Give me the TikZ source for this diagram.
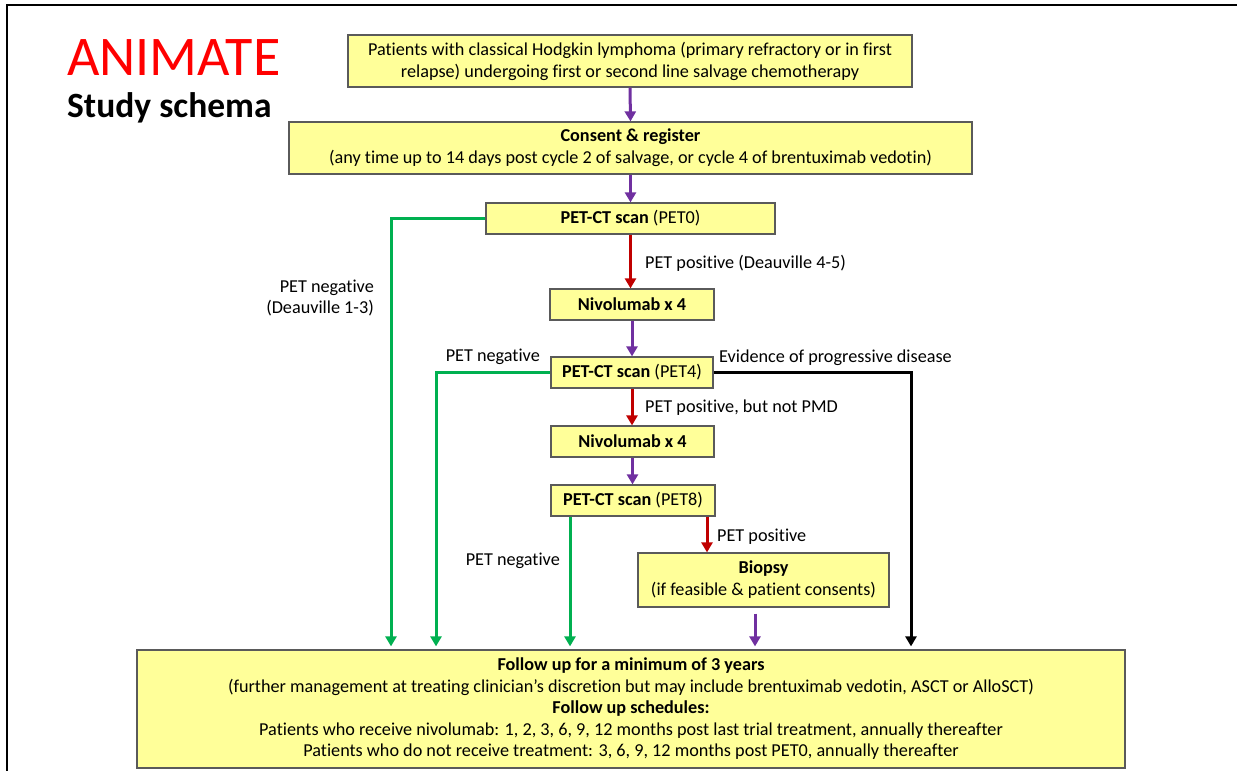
\documentclass[tikz,border=0pt]{standalone}
\usepackage{fontspec}
\setmainfont[Ligatures={NoCommon}]{Carlito}
\usetikzlibrary{arrows.meta}
\definecolor{boxfill}{RGB}{255,255,153}
\definecolor{boxline}{RGB}{90,90,90}
\definecolor{ogreen}{RGB}{0,176,80}
\definecolor{ored}{RGB}{192,0,0}
\definecolor{opurple}{RGB}{112,48,160}
\definecolor{tred}{RGB}{255,0,0}
\tikzset{
  stepbox/.style={draw=boxline, line width=1.2pt, fill=boxfill, align=center, inner sep=0pt,
    font=\fontsize{18.2}{22}\selectfont},
  lbl/.style={inner sep=0pt, font=\fontsize{18.2}{21}\selectfont, text=black},
  conn/.style={line width=3pt, -{Triangle[width=11pt,length=10pt]}},
  gconn/.style={conn, draw=ogreen},
  rconn/.style={conn, draw=ored},
  pconn/.style={conn, draw=opurple},
  kconn/.style={conn, draw=black},
}
\begin{document}
\begin{tikzpicture}[x=1pt,y=-1pt]
\useasboundingbox (0,0) rectangle (1237,771);
\fill[white] (0,0) rectangle (1237,771);
\draw[line width=2.2pt] (7,771) -- (7,5) -- (1237,5);

\node[anchor=west, inner sep=0pt, text=tred, font=\fontsize{56}{60}\selectfont] (title) at (67,58) {ANIMATE};
\node[anchor=west, inner sep=0pt, font=\fontsize{35.5}{40}\bfseries\selectfont] (sub) at (67,108) {Study schema};

\node[stepbox, minimum width=564pt, minimum height=52pt] (b1) at (630,61)
  {Patients with classical Hodgkin lymphoma (primary refractory or in first\\relapse) undergoing first or second line salvage chemotherapy};
\node[stepbox, minimum width=683pt, minimum height=52pt] (b2) at (630.5,148)
  {\textbf{Consent \& register}\\(any time up to 14 days post cycle 2 of salvage, or cycle 4 of brentuximab vedotin)};
\node[stepbox, minimum width=289pt, minimum height=31pt] (pet0) at (630.5,218.5)
  {\textbf{PET-CT scan} (PET0)};
\node[stepbox, minimum width=164pt, minimum height=31pt] (niv1) at (632,304.5)
  {\textbf{Nivolumab x 4}};
\node[stepbox, minimum width=162pt, minimum height=31pt] (pet4) at (632,372.5)
  {\textbf{PET-CT scan} (PET4)};
\node[stepbox, minimum width=163pt, minimum height=31pt] (niv2) at (632.5,441.5)
  {\textbf{Nivolumab x 4}};
\node[stepbox, minimum width=164pt, minimum height=31pt] (pet8) at (633,500.5)
  {\textbf{PET-CT scan} (PET8)};
\node[stepbox, minimum width=251pt, minimum height=54pt] (bio) at (763.5,580)
  {\textbf{Biopsy}\\(if feasible \& patient consents)};
\node[stepbox, minimum width=988pt, minimum height=118pt, font=\fontsize{18.2}{21.5}\selectfont] (fu) at (631,709)
  {\textbf{Follow up for a minimum of 3 years}\\
   (further management at treating clinician’s discretion but may include brentuximab vedotin, ASCT or AlloSCT)\\
   \textbf{Follow up schedules:}\\
   Patients who receive nivolumab: 1, 2, 3, 6, 9, 12 months post last trial treatment, annually thereafter\\
   Patients who do not receive treatment: 3, 6, 9, 12 months post PET0, annually thereafter};

% labels
\node[lbl, anchor=west] (l1) at (645,263) {PET positive (Deauville 4-5)};
\node[lbl, anchor=east, align=right] (l2) at (374,297.5) {PET negative\\(Deauville 1-3)};
\node[lbl, anchor=east] (l3) at (540,357) {PET negative};
\node[lbl, anchor=west] (l4) at (719,358) {Evidence of progressive disease};
\node[lbl, anchor=west] (l5) at (645,408) {PET positive, but not PMD};
\node[lbl, anchor=east] (l6) at (560,561) {PET negative};
\node[lbl, anchor=west] (l7) at (717,537) {PET positive};

% coordinates for routing
\coordinate (gx1) at (391,0);
\coordinate (gx2) at (436,0);
\coordinate (gx3) at (570,0);
\coordinate (kx) at (911,0);
\coordinate (rx) at (707,0);
\coordinate (px) at (755,0);

% main spine
\draw[pconn] (b1.south) -- (b2.north);
\draw[pconn] (b2.south) -- (b2.south |- pet0.north);
\draw[rconn] (pet0.south) -- (pet0.south |- niv1.north);
\draw[pconn] (niv1.south) -- (niv1.south |- pet4.north);
\draw[rconn] (pet4.south) -- (pet4.south |- niv2.north);
\draw[pconn] (niv2.south) -- (niv2.south |- pet8.north);
\draw[rconn] (rx |- pet8.south) -- (rx |- bio.north);
\draw[pconn, shorten <=6pt, shorten >=3pt] (px |- bio.south) -- (px |- fu.north);

% branches to follow-up
\draw[gconn, shorten >=3pt] (pet0.west) -| (gx1 |- fu.north);
\draw[gconn, shorten >=3pt] (pet4.west) -| (gx2 |- fu.north);
\draw[gconn, shorten >=3pt] (gx3 |- pet8.south) -- (gx3 |- fu.north);
\draw[kconn, shorten >=3pt] (pet4.east) -| (kx |- fu.north);
\end{tikzpicture}
\end{document}
